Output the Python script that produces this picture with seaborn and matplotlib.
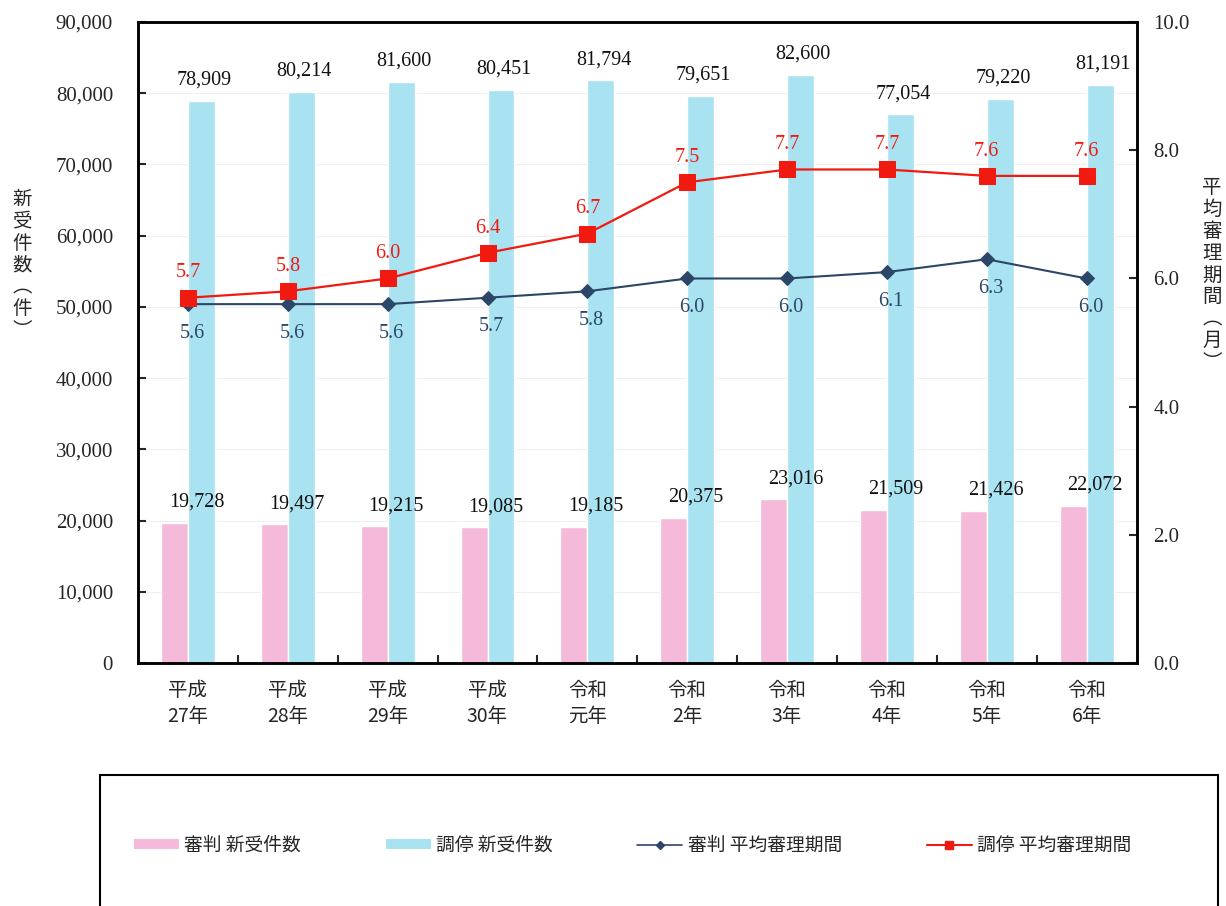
import numpy as np
import pandas as pd
import seaborn as sns
import matplotlib.pyplot as plt
from matplotlib.patches import Rectangle, Patch
from matplotlib.lines import Line2D
from matplotlib.ticker import FuncFormatter

# data
years = ["平成\n27年", "平成\n28年", "平成\n29年", "平成\n30年", "令和\n元年",
         "令和\n2年", "令和\n3年", "令和\n4年", "令和\n5年", "令和\n6年"]
shinpan_new = [19728, 19497, 19215, 19085, 19185, 20375, 23016, 21509, 21426, 22072]
chotei_new = [78909, 80214, 81600, 80451, 81794, 79651, 82600, 77054, 79220, 81191]
shinpan_period = [5.6, 5.6, 5.6, 5.7, 5.8, 6.0, 6.0, 6.1, 6.3, 6.0]
chotei_period = [5.7, 5.8, 6.0, 6.4, 6.7, 7.5, 7.7, 7.7, 7.6, 7.6]
series_names = ["審判 新受件数", "調停 新受件数", "審判 平均審理期間", "調停 平均審理期間"]

pink = "#F5BADA"
cyan = "#A9E3F1"
navy = "#2C4668"
red = "#F01A10"
num_font = "Liberation Serif"

sns.set_style("white")
plt.rcParams['font.family'] = ['Noto Sans CJK JP', 'DejaVu Sans']

df = pd.DataFrame({
    "year": years * 2,
    "count": shinpan_new + chotei_new,
    "type": [series_names[0]] * len(years) + [series_names[1]] * len(years),
})

fig = plt.figure(figsize=(12.26, 9.06), dpi=100)
ax = fig.add_axes([0.1126, 0.268, 0.8144, 0.7077])

sns.barplot(data=df, x="year", y="count", hue="type", palette=[pink, cyan],
            width=0.54, saturation=1, legend=False, ax=ax, zorder=2)

# bar value labels
for container, vals, dx in zip(ax.containers, [shinpan_new, chotei_new], [16, 2]):
    for bar, v in zip(container, vals):
        ax.annotate(f"{v:,}", (bar.get_x() + bar.get_width() / 2, bar.get_height()),
                    xytext=(dx, 8), textcoords="offset points", ha="center", va="bottom",
                    fontsize=14.5, fontfamily=num_font, color="#111111")

ax.set_xlim(-0.5, len(years) - 0.5)
ax.set_ylim(0, 90000)
ax.set_yticks(range(0, 90001, 10000))
ax.yaxis.set_major_formatter(FuncFormatter(lambda v, p: f"{int(v):,}"))
ax.set_xlabel("")
ax.set_ylabel("")
ax.yaxis.grid(True, color="#efefef", lw=0.8, zorder=0)
ax.set_axisbelow(True)
ax.tick_params(axis="y", direction="in", length=6, width=1.5, pad=18,
               labelsize=15, labelfontfamily=num_font, left=True)
ax.set_xticks(range(len(years)))
ax.set_xticklabels(years, fontsize=14, linespacing=1.3)
ax.set_xticks(np.arange(0.5, len(years) - 1, 1), minor=True)
ax.tick_params(axis="x", which="major", length=0, pad=12)
ax.tick_params(axis="x", which="minor", direction="in", length=6, width=1.5, bottom=True)

# average period lines on right axis
ax2 = ax.twinx()
xs = np.arange(len(years))
sns.lineplot(x=xs, y=shinpan_period, ax=ax2, color=navy, lw=1.5, marker="D",
             markersize=7, markeredgecolor=navy, zorder=4)
sns.lineplot(x=xs, y=chotei_period, ax=ax2, color=red, lw=1.6, marker="s",
             markersize=11, markeredgecolor=red, zorder=5)
ax2.set_ylim(0, 10)
ax2.set_yticks(np.arange(0, 10.1, 2))
ax2.yaxis.set_major_formatter(FuncFormatter(lambda v, p: f"{v:.1f}"))
ax2.set_ylabel("")
ax2.tick_params(axis="y", direction="in", length=6, width=1.5, pad=12,
                labelsize=15, labelfontfamily=num_font, right=True)

for x, v in zip(xs, shinpan_period):
    ax2.annotate(f"{v:.1f}", (x, v), xytext=(3, -14), textcoords="offset points",
                 ha="center", va="top", fontsize=14.5, fontfamily=num_font, color=navy)
for x, v in zip(xs, chotei_period):
    ax2.annotate(f"{v:.1f}", (x, v), xytext=(0, 11), textcoords="offset points",
                 ha="center", va="bottom", fontsize=14.5, fontfamily=num_font, color=red)

for a in (ax, ax2):
    for s in a.spines.values():
        s.set_color("black")
        s.set_linewidth(1.8)

# vertical axis titles
fig.text(22 / 1226, 1 - 265 / 906, "\n".join("新受件数︵件︶"), ha="center", va="center",
         fontsize=14, linespacing=1.05)
fig.text(1212 / 1226, 1 - 275 / 906, "\n".join("平均審理期間︵月︶"), ha="center", va="center",
         fontsize=14, linespacing=1.05)

# legend in a box below the plot
fig.patches.append(Rectangle((100 / 1226, -0.05), 1118 / 1226, 0.05 + 1 - 775 / 906,
                             transform=fig.transFigure, fill=False, edgecolor="black",
                             lw=1.5, clip_on=False))
handles = [
    Patch(facecolor=pink, edgecolor="none"),
    Patch(facecolor=cyan, edgecolor="none"),
    Line2D([], [], color=navy, lw=1.2, marker="D", markersize=4),
    Line2D([], [], color=red, lw=1.5, marker="s", markersize=6),
]
fig.legend(handles, series_names, loc="center", bbox_to_anchor=(0.516, 1 - 845 / 906),
           ncol=4, frameon=False, handlelength=2.4, handleheight=0.5, handletextpad=0.3,
           columnspacing=4.5, fontsize=13.5)

fig.savefig("out.png", dpi=100)
